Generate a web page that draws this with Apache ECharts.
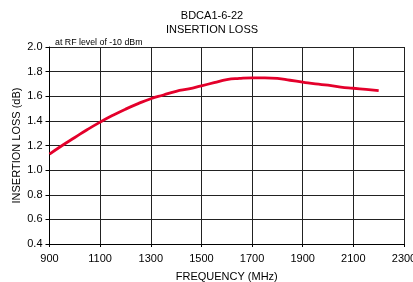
<!DOCTYPE html>
<html><head><meta charset="utf-8">
<script src="https://cdn.jsdelivr.net/npm/echarts@6/dist/echarts.min.js"></script>
<style>html,body{margin:0;padding:0;background:#fff}#c{width:413px;height:282px}</style>
</head><body><div id="c"></div>
<script>
var frequencies = [900,950,1000,1050,1100,1150,1200,1250,1300,1350,1400,1450,1500,1550,1600,1650,1700,1750,1800,1850,1900,1950,2000,2050,2100,2150,2200];
var insertionLoss = [1.13,1.20,1.265,1.33,1.39,1.445,1.495,1.54,1.58,1.61,1.64,1.66,1.685,1.71,1.735,1.745,1.75,1.75,1.745,1.73,1.715,1.70,1.69,1.675,1.665,1.655,1.645];
var xTicks = [900,1100,1300,1500,1700,1900,2100,2300];
var yTicks = [0.4,0.6,0.8,1.0,1.2,1.4,1.6,1.8,2.0];
var titleLines = ['BDCA1-6-22','INSERTION LOSS'];
var note = 'at RF level of -10 dBm';

var font = 'Liberation Sans, Arial, sans-serif';
var chart = echarts.init(document.getElementById('c'), null, {renderer:'canvas'});
chart.setOption({
  animation:false,
  backgroundColor:'#fff',
  title:[
    {text:titleLines.join('\n'), left:212, top:9, padding:0, textAlign:'center',
     textStyle:{fontFamily:font,fontSize:11,fontWeight:'normal',color:'#000',lineHeight:14}},
    {text:note, left:55, top:37.5, padding:0,
     textStyle:{fontFamily:font,fontSize:8.8,fontWeight:'normal',color:'#000',lineHeight:10}}
  ],
  grid:{left:49.5,right:9,top:47,bottom:38,containLabel:false,outerBoundsMode:'none'},
  xAxis:{type:'value',min:900,max:2300,
    name:'FREQUENCY (MHz)',nameLocation:'middle',nameGap:27,nameMoveOverlap:false,
    nameTextStyle:{fontFamily:font,fontSize:11,color:'#000'},
    axisLine:{lineStyle:{color:'#000',width:1}},
    axisTick:{show:true,length:3,inside:false,customValues:xTicks,lineStyle:{color:'#000'}},
    axisLabel:{customValues:xTicks,fontFamily:font,fontSize:11,color:'#000',margin:9,
      formatter:function(v){return String(v);}},
    splitLine:{show:true,lineStyle:{color:'#222',width:1}}
  },
  yAxis:{type:'value',min:0.4,max:2.0,interval:0.2,
    name:'INSERTION LOSS (dB)',nameLocation:'middle',nameGap:27,nameMoveOverlap:false,
    nameTextStyle:{fontFamily:font,fontSize:11,color:'#000'},
    axisLine:{show:true,lineStyle:{color:'#000',width:1}},
    axisTick:{show:true,length:4,lineStyle:{color:'#000'}},
    axisLabel:{fontFamily:font,fontSize:11,color:'#000',margin:7,
      formatter:function(v){return v.toFixed(1);}},
    splitLine:{show:true,lineStyle:{color:'#222',width:1}}
  },
  series:[{type:'line',data:frequencies.map(function(f,i){return [f,insertionLoss[i]];}),
    smooth:true,showSymbol:false,lineStyle:{color:'#e4002b',width:2.8}}]
});
</script></body></html>
